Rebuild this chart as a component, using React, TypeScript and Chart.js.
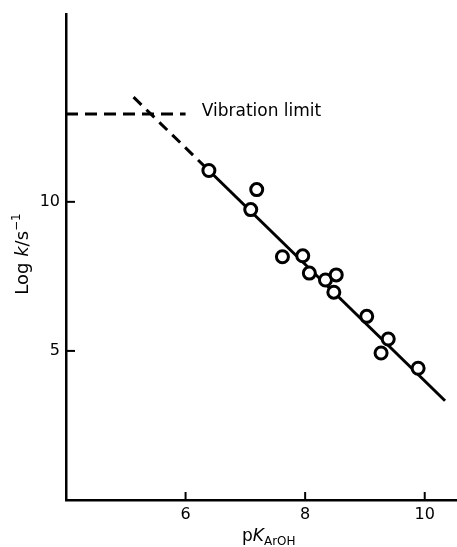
import React, { useEffect, useRef } from "react";
import { Chart, registerables } from "chart.js";

Chart.register(...registerables);

// Data
const pKa = [6.39, 7.19, 7.09, 7.62, 7.96, 8.07, 8.34, 8.52, 8.48, 9.03, 9.39, 9.27, 9.89];
const logK = [11.05, 10.41, 9.74, 8.16, 8.19, 7.61, 7.38, 7.55, 6.97, 6.16, 5.4, 4.93, 4.42];
const fitX = [6.39, 10.34];
const fitY = [11.05, 3.33];
const extX = [5.13, 6.39];
const extY = [13.51, 11.05];
const limitX = [4, 6.0];
const limitY = [12.95, 12.95];
const xTicks = [6, 8, 10];
const yTicks = [5, 10];
const limitLabel = "Vibration limit";
const limitLabelAt = [6.27, 12.95];

const FONT = "'DejaVu Sans', 'Liberation Sans', sans-serif";

const zip = (xs: number[], ys: number[]) => xs.map((x, i) => ({ x, y: ys[i] }));

const overlay = {
  id: "overlay",
  afterDraw(chart: any) {
    const { ctx, chartArea, scales } = chart;
    const x = scales.x;
    const y = scales.y;
    ctx.save();
    ctx.strokeStyle = "#000";
    ctx.fillStyle = "#000";
    ctx.lineWidth = 2;
    // inward tick marks
    for (const v of xTicks) {
      const px = x.getPixelForValue(v);
      ctx.beginPath();
      ctx.moveTo(px, chartArea.bottom);
      ctx.lineTo(px, chartArea.bottom - 8);
      ctx.stroke();
    }
    for (const v of yTicks) {
      const py = y.getPixelForValue(v);
      ctx.beginPath();
      ctx.moveTo(chartArea.left, py);
      ctx.lineTo(chartArea.left + 9, py);
      ctx.stroke();
    }
    // annotation
    ctx.font = `17px ${FONT}`;
    ctx.textBaseline = "alphabetic";
    ctx.textAlign = "left";
    ctx.fillText(limitLabel, x.getPixelForValue(limitLabelAt[0]), y.getPixelForValue(limitLabelAt[1]) + 2);

    // x title: pK_ArOH
    let cx = 242;
    const by = 541;
    ctx.font = `17px ${FONT}`;
    ctx.fillText("p", cx, by);
    cx += ctx.measureText("p").width;
    ctx.font = `italic 17px ${FONT}`;
    ctx.fillText("K", cx, by);
    cx += ctx.measureText("K").width;
    ctx.font = `12px ${FONT}`;
    ctx.fillText("ArOH", cx, by + 4);

    // y title: Log k/s^-1 (rotated)
    ctx.translate(28, 254);
    ctx.rotate(-Math.PI / 2);
    const parts: [string, string, number][] = [
      ["Log ", `18px ${FONT}`, 0],
      ["k", `italic 18px ${FONT}`, 0],
      ["/s", `18px ${FONT}`, 0],
      ["\u22121", `12px ${FONT}`, -8],
    ];
    let total = 0;
    for (const [t, f] of parts) {
      ctx.font = f;
      total += ctx.measureText(t).width;
    }
    let tx = -total / 2;
    for (const [t, f, dy] of parts) {
      ctx.font = f;
      ctx.fillText(t, tx, dy);
      tx += ctx.measureText(t).width;
    }
    ctx.restore();
  },
};

export default function App() {
  const ref = useRef<HTMLCanvasElement | null>(null);
  useEffect(() => {
    if (!ref.current) return;
    const chart = new Chart(ref.current, {
      type: "scatter",
      data: {
        datasets: [
          {
            label: "points",
            data: zip(pKa, logK),
            pointRadius: 6,
            pointBorderWidth: 3,
            borderColor: "#000",
            backgroundColor: "#fff",
            showLine: false,
            order: 0,
          },
          {
            label: "fit",
            data: zip(fitX, fitY),
            showLine: true,
            borderColor: "#000",
            borderWidth: 3,
            pointRadius: 0,
            order: 1,
          },
          {
            label: "extrapolation",
            data: zip(extX, extY),
            showLine: true,
            borderColor: "#000",
            borderWidth: 3,
            borderDash: [11, 7],
            pointRadius: 0,
            order: 1,
          },
          {
            label: "vibration limit",
            data: zip(limitX, limitY),
            showLine: true,
            borderColor: "#000",
            borderWidth: 3,
            borderDash: [12, 7],
            pointRadius: 0,
            order: 1,
          },
        ],
      },
      options: {
        animation: false,
        responsive: false,
        events: [],
        layout: { autoPadding: false, padding: { left: 9, top: 14, right: 0, bottom: 0 } },
        plugins: { legend: { display: false }, tooltip: { enabled: false } },
        scales: {
          x: {
            type: "linear",
            min: 4,
            max: 10.54,
            afterBuildTicks: (s: any) => {
              s.ticks = xTicks.map((v) => ({ value: v }));
            },
            afterFit: (s: any) => {
              s.height = 47;
              s.paddingLeft = 0;
              s.paddingRight = 0;
            },
            ticks: {
              color: "#000",
              font: { family: FONT, size: 16 },
              padding: 5,
              maxRotation: 0,
              autoSkip: false,
              callback: (v: any) => String(v),
            },
            grid: { drawOnChartArea: false, drawTicks: false, color: "rgba(0,0,0,0)" },
            border: { display: true, color: "#000", width: 2.5 },
          },
          y: {
            type: "linear",
            min: 0,
            max: 16.3,
            afterBuildTicks: (s: any) => {
              s.ticks = yTicks.map((v) => ({ value: v }));
            },
            afterFit: (s: any) => {
              s.width = 57;
              s.paddingTop = 0;
              s.paddingBottom = 0;
            },
            ticks: {
              color: "#000",
              font: { family: FONT, size: 16 },
              padding: 6,
              autoSkip: false,
              callback: (v: any) => String(v),
            },
            grid: { drawOnChartArea: false, drawTicks: false, color: "rgba(0,0,0,0)" },
            border: { display: true, color: "#000", width: 2.5 },
          },
        },
      },
      plugins: [overlay],
    });
    return () => chart.destroy();
  }, []);
  return (
    <div style={{ position: "fixed", left: 0, top: 0, width: 457, height: 547, background: "#fff" }}>
      <canvas ref={ref} width={457} height={547} style={{ display: "block" }} />
    </div>
  );
}
